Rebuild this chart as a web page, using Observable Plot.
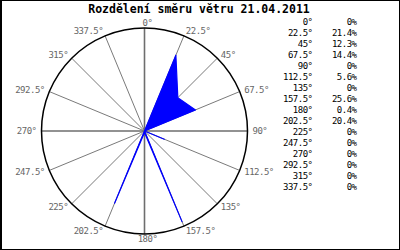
<!DOCTYPE html>
<html>
<head>
<meta charset="utf-8">
<script src="https://cdn.jsdelivr.net/npm/d3@7"></script>
<script src="https://cdn.jsdelivr.net/npm/@observablehq/plot@0.6"></script>
<style>
  html, body { margin: 0; padding: 0; background: #fff; }
  #wrap { position: relative; width: 400px; height: 250px; overflow: hidden; background: #fff; }
  #wrap > * { position: absolute; left: 0; top: 0; }
  #title { width: 400px; text-align: center; font: bold 11.5px "DejaVu Sans Mono", monospace; top: 2px; left: -1px; line-height: 14px; color: #000; }
  #frame { width: 400px; height: 250px; box-sizing: border-box; border: 1px solid #000; border-left-width: 2px; border-right-color: #000; pointer-events: none; }
</style>
</head>
<body>
<div id="wrap">
  <div id="title">Rozdělení směru větru 21.04.2011</div>
</div>
<script>
// Data
const directions = [0, 22.5, 45, 67.5, 90, 112.5, 135, 157.5, 180, 202.5, 225, 247.5, 270, 292.5, 315, 337.5];
const percents   = [0, 21.4, 12.3, 14.4, 0, 5.6, 0, 25.6, 0.4, 20.4, 0, 0, 0, 0, 0, 0];
const dirLabels  = ["0°", "22.5°", "45°", "67.5°", "90°", "112.5°", "135°", "157.5°", "180°", "202.5°", "225°", "247.5°", "270°", "292.5°", "315°", "337.5°"];
const pctLabels  = ["0%", "21.4%", "12.3%", "14.4%", "0%", "5.6%", "0%", "25.6%", "0.4%", "20.4%", "0%", "0%", "0%", "0%", "0%", "0%"];

const rows = directions.map((d, i) => ({dir: d, pct: percents[i], dirLabel: dirLabels[i], pctLabel: pctLabels[i]}));
const R = d3.max(percents) * 1.05; // outer ring value
const rad = d => d * Math.PI / 180;
const px = (d, r) => r * Math.sin(rad(d));
const py = (d, r) => r * Math.cos(rad(d));
const labelR = R * 108 / 103;

const polar = Plot.plot({
  width: 400, height: 250,
  marginLeft: 41, marginRight: 153, marginTop: 27.5, marginBottom: 16.5,
  x: {domain: [-R, R], axis: null},
  y: {domain: [-R, R], axis: null},
  style: {fontFamily: "DejaVu Sans Mono", fontSize: "9px", letterSpacing: "-0.5px", background: "transparent"},
  marks: [
    // spokes
    Plot.link(rows.filter(r => r.dir % 90 !== 0), {
      x1: 0, y1: 0, x2: r => px(r.dir, R), y2: r => py(r.dir, R),
      stroke: "#7a7a7a", strokeWidth: 1
    }),
    Plot.link(rows.filter(r => r.dir % 90 === 0), {
      x1: 0, y1: 0, x2: r => px(r.dir, R), y2: r => py(r.dir, R),
      stroke: "#6e6e6e", strokeWidth: 1.6
    }),
    // data polygon
    Plot.line(rows, {
      x: r => px(r.dir, r.pct), y: r => py(r.dir, r.pct),
      curve: "linear-closed", fill: "#0000ff", stroke: "#0000ff", strokeWidth: 1.2
    }),
    // outer ring
    Plot.line(rows, {
      x: r => px(r.dir, R), y: r => py(r.dir, R),
      curve: "catmull-rom-closed", stroke: "#000", strokeWidth: 1.5
    }),
    // direction labels
    Plot.text(rows.filter(r => Math.sin(rad(r.dir)) > 0.01), {
      x: r => px(r.dir, labelR), y: r => py(r.dir, labelR), text: "dirLabel",
      textAnchor: "start", fill: "#666", dx: 0
    }),
    Plot.text(rows.filter(r => Math.sin(rad(r.dir)) < -0.01), {
      x: r => px(r.dir, labelR), y: r => py(r.dir, labelR), text: "dirLabel",
      textAnchor: "end", fill: "#666", dx: 0
    }),
    Plot.text(rows.filter(r => Math.abs(Math.sin(rad(r.dir))) <= 0.01), {
      x: r => px(r.dir, labelR), y: r => py(r.dir, labelR), text: "dirLabel",
      textAnchor: "middle", fill: "#666", dx: 3
    })
  ]
});

const table = Plot.plot({
  width: 400, height: 250,
  marginLeft: 312, marginRight: 44, marginTop: 20, marginBottom: 61.5,
  x: {type: "point", domain: ["dir", "pct"], padding: 0, axis: null},
  y: {type: "point", domain: dirLabels, padding: 0, axis: null},
  style: {fontFamily: "DejaVu Sans Mono", fontSize: "9px", letterSpacing: "-0.5px", background: "transparent"},
  marks: [
    Plot.text(rows, {x: () => "dir", y: "dirLabel", text: "dirLabel", textAnchor: "end", fill: "#000"}),
    Plot.text(rows, {x: () => "pct", y: "dirLabel", text: "pctLabel", textAnchor: "end", fill: "#000"})
  ]
});

const wrap = document.getElementById("wrap");
wrap.appendChild(polar);
wrap.appendChild(table);
const frame = document.createElement("div");
frame.id = "frame";
wrap.appendChild(frame);
</script>
</body>
</html>
